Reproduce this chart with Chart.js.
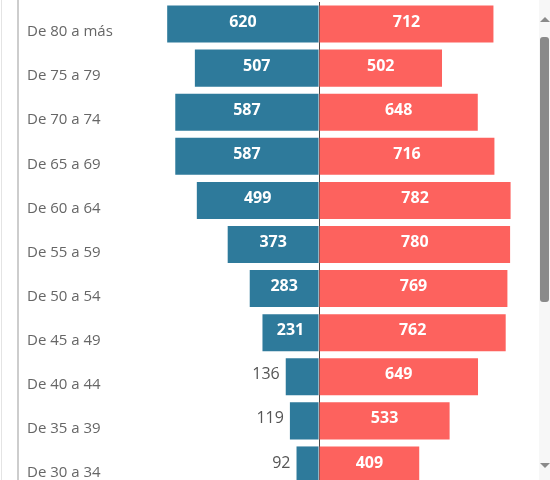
<!DOCTYPE html>
<html>
<head>
<meta charset="utf-8">
<script src="https://cdn.jsdelivr.net/npm/chart.js@4"></script>
<style>
  html, body { margin: 0; padding: 0; background: #fff; overflow: hidden; }
  #wrap { position: relative; width: 550px; height: 480px; overflow: hidden; }
  #chart { position: absolute; left: 0; top: 0; }
  .edge1 { position: absolute; left: 1px; top: 0; width: 1px; height: 480px; background: #e4e4e4; }
  .edge2 { position: absolute; left: 17px; top: 0; width: 2px; height: 480px; background: #cdcdcd; }
  .track { position: absolute; left: 539px; top: 0; width: 11px; height: 480px; background: #f7f7f7; }
  .thumb { position: absolute; left: 540px; top: 37px; width: 9px; height: 265px; background: #8a8a8a; border-radius: 3px; }
  .up { position: absolute; left: 540px; top: 17px; width: 0; height: 0;
        border-left: 5px solid transparent; border-right: 5px solid transparent; border-bottom: 5px solid #8a8a8a; }
  .down { position: absolute; left: 540px; top: 463px; width: 0; height: 0;
        border-left: 5px solid transparent; border-right: 5px solid transparent; border-top: 5px solid #8a8a8a; }
</style>
</head>
<body>
<div id="wrap">
  <canvas id="chart" width="550" height="490"></canvas>
  <div class="edge1"></div>
  <div class="edge2"></div>
  <div class="track"></div>
  <div class="thumb"></div>
  <div class="up"></div>
  <div class="down"></div>
</div>
<script>
  'use strict';

  var ageGroups = ['De 80 a más', 'De 75 a 79', 'De 70 a 74', 'De 65 a 69', 'De 60 a 64', 'De 55 a 59',
    'De 50 a 54', 'De 45 a 49', 'De 40 a 44', 'De 35 a 39', 'De 30 a 34'];
  var hombres = [620, 507, 587, 587, 499, 373, 283, 231, 136, 119, 92];
  var mujeres = [712, 502, 648, 716, 782, 780, 769, 762, 649, 533, 409];

  var blue = '#2e7a9b';
  var red = '#fd625e';

  // values on the bars: white inside, gray outside when the bar is too short
  var barLabels = {
    id: 'barLabels',
    afterDatasetsDraw: function (chart) {
      var ctx = chart.ctx;
      ctx.save();
      ctx.textBaseline = 'middle';
      chart.data.datasets.forEach(function (ds, di) {
        var meta = chart.getDatasetMeta(di);
        meta.data.forEach(function (bar, i) {
          var txt = String(Math.abs(ds.data[i]));
          var left = Math.min(bar.x, bar.base);
          var right = Math.max(bar.x, bar.base);
          ctx.font = 'bold 16px "Open Sans"';
          var w = ctx.measureText(txt).width;
          if (w + 10 < right - left) {
            ctx.fillStyle = '#ffffff';
            ctx.textAlign = 'center';
            ctx.fillText(txt, (left + right) / 2, bar.y - 2);
          } else {
            ctx.font = '16px "Open Sans"';
            ctx.fillStyle = '#555555';
            ctx.textAlign = 'right';
            ctx.fillText(txt, left - 6, bar.y - 2);
          }
        });
      });
      ctx.restore();
    }
  };

  new Chart(document.getElementById('chart'), {
    type: 'bar',
    data: {
      labels: ageGroups,
      datasets: [{
        label: 'Hombres',
        data: hombres.map(function (v) { return -v; }),
        backgroundColor: blue
      }, {
        label: 'Mujeres',
        data: mujeres,
        backgroundColor: red
      }]
    },
    options: {
      indexAxis: 'y',
      responsive: false,
      animation: false,
      barPercentage: 0.84,
      categoryPercentage: 1,
      layout: { padding: { left: 27, right: 35, top: 2, bottom: 3 } },
      plugins: {
        legend: { display: false },
        tooltip: { enabled: false }
      },
      scales: {
        x: {
          stacked: true,
          min: -780,
          max: 800,
          z: 1,
          border: { display: false },
          ticks: { display: false, stepSize: 100 },
          grid: {
            drawTicks: false,
            lineWidth: 1,
            color: function (c) { return c.tick && c.tick.value === 0 ? '#4a4a4a' : 'rgba(0,0,0,0)'; }
          },
          afterFit: function (scale) {
            scale.height = 0;
            scale.paddingLeft = 0;
            scale.paddingRight = 0;
          }
        },
        y: {
          stacked: true,
          border: { display: false },
          grid: { display: false },
          ticks: {
            color: '#666666',
            font: { family: 'Open Sans', size: 15 },
            crossAlign: 'far',
            labelOffset: 8
          },
          afterFit: function (scale) {
            scale.width = 101;
            scale.paddingTop = 0;
            scale.paddingBottom = 0;
          }
        }
      }
    },
    plugins: [barLabels]
  });
</script>
</body>
</html>
